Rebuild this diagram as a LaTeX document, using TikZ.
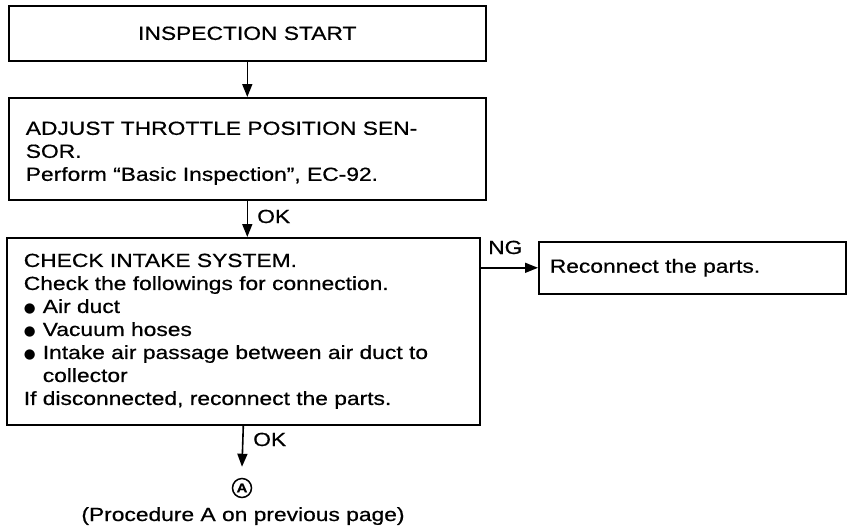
\documentclass[tikz,border=0pt]{standalone}
\usepackage{fontspec}
\setmainfont[FakeStretch=1.2,FakeBold=0.6]{Liberation Sans}
\newfontfamily\dejavu{DejaVu Sans}
\usetikzlibrary{arrows.meta}
\newcommand{\bul}{\makebox[19pt][l]{\raisebox{0pt}{\dejavu\fontsize{13.5}{13.5}\selectfont ●}}}
\begin{document}
\begin{tikzpicture}[x=1pt,y=-1pt,
  box/.style={draw, line width=1.6pt, anchor=north west, align=left, inner xsep=17pt, inner ysep=0pt},
  arr/.style={line width=1.6pt, -{Triangle[length=13pt,width=10pt]}},
  lbl/.style={anchor=base west, inner sep=0pt},
  font=\fontsize{19}{23}\selectfont]
\useasboundingbox (0,0) rectangle (854,531);
\node[box, align=center, text width=443pt, minimum height=55pt] (b1) at (8,5) {INSPECTION START};
\node[box, text width=443pt, minimum height=102pt] (b2) at (8,97)
  {\rule{0pt}{22pt}ADJUST THROTTLE POSITION SEN-\\SOR.\\Perform “Basic Inspection”, EC-92.};
\node[box, text width=439pt, minimum height=187pt] (b3) at (6,237)
  {CHECK INTAKE SYSTEM.\\Check the followings for connection.\\
   \bul Air duct\\\bul Vacuum hoses\\\bul Intake air passage between air duct to\\
   \hspace*{19pt}collector\\If disconnected, reconnect the parts.};
\node[box, inner xsep=11pt, text width=285pt, minimum height=52pt] (b4) at (538,241) {Reconnect the parts.};
\node[circle, draw, line width=1.5pt, inner sep=0pt, minimum size=19pt,
      font=\fontsize{12.5}{12.5}\bfseries\selectfont] (A) at (242,488) {A};
\node[anchor=base, inner sep=0pt] (proc) at (243,521) {(Procedure A on previous page)};
\draw[arr] (b1) -- (b2);
\draw[arr] (b2.south) -- (b2.south |- b3.north);
\draw[arr] (b3.south) -- ([yshift=11pt]A.north);
\draw[arr] (b3.east |- b4.west) -- (b4.west);
\node[lbl] (ok1) at (257,223) {OK};
\node[lbl] (ng) at (488,254) {NG};
\node[lbl] (ok2) at (253,446) {OK};
\end{tikzpicture}
\end{document}
